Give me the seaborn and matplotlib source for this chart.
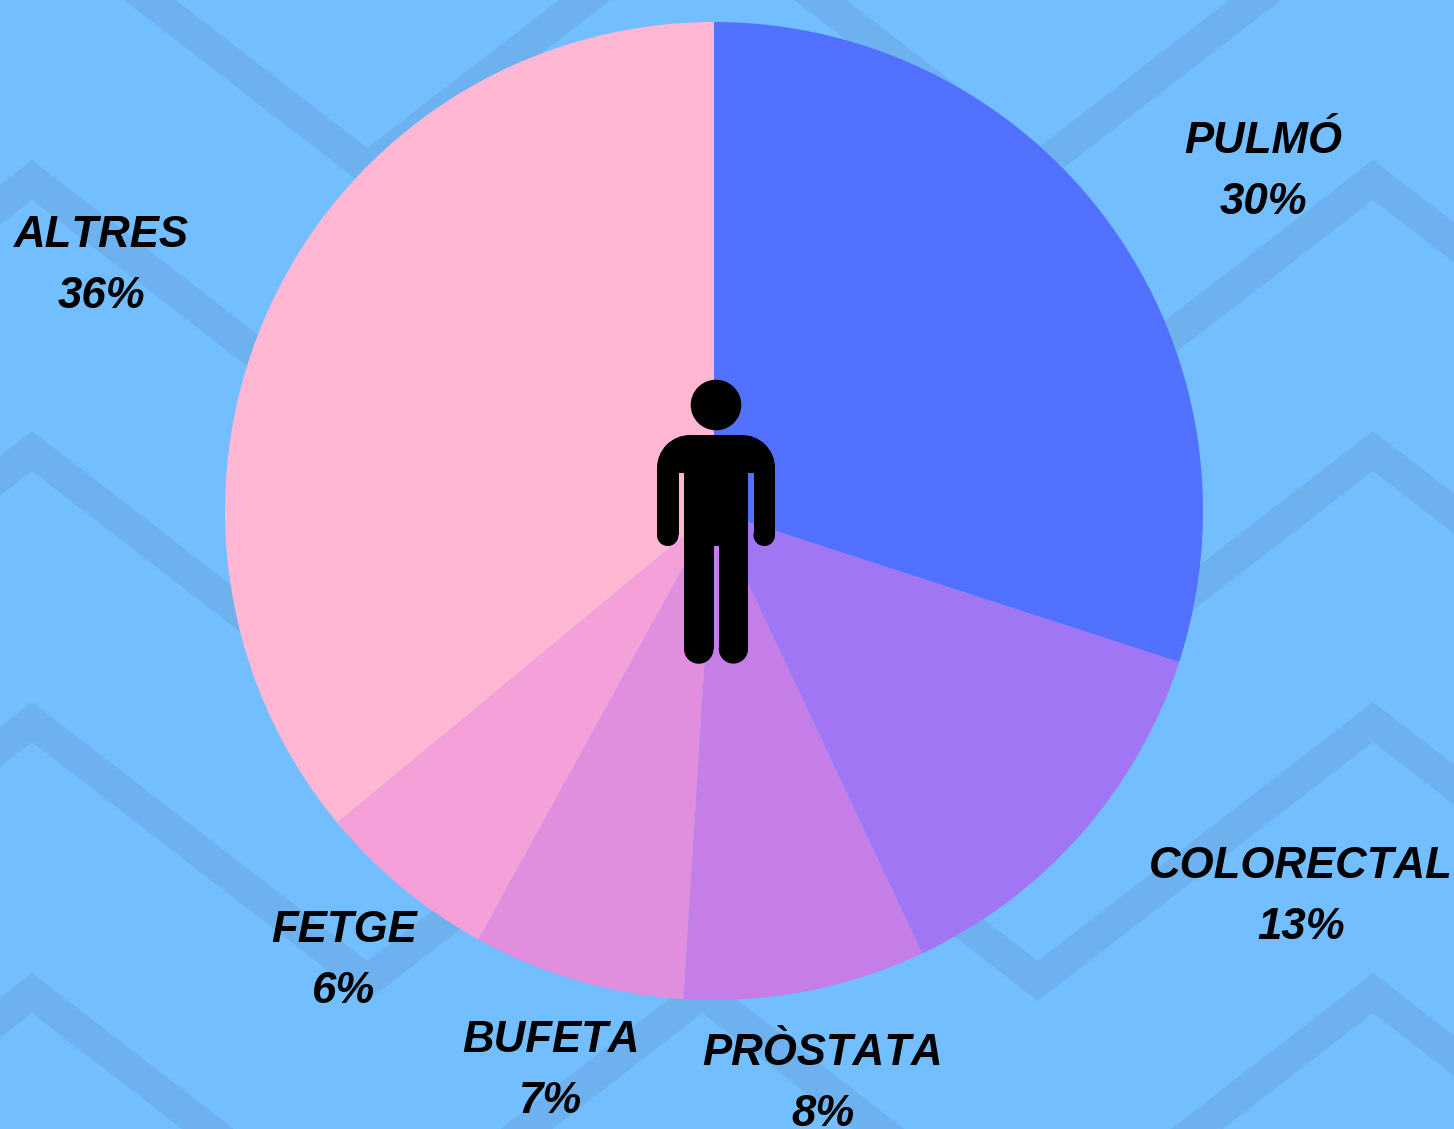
import numpy as np
import matplotlib
matplotlib.use('Agg')
import matplotlib.pyplot as plt
from matplotlib.patches import Circle, Rectangle, Wedge
import seaborn as sns

W, H = 1454, 1129

# --- Data ---
labels = ['PULMÓ', 'COLORECTAL', 'PRÒSTATA', 'BUFETA', 'FETGE', 'ALTRES']
values = [30, 13, 8, 7, 6, 36]
slice_colors = ['#5271FF', '#A076F5', '#C57DE8', '#E08EDD', '#F5A0D8', '#FFB7D3']
label_x = [1263, 1301, 823, 551, 344, 101]
label_y = [153, 878, 1065, 1052, 942, 247]

BG = '#72BEFF'
STRIPE = '#6DB2EE'

sns.set_theme(style="white")
plt.rcParams['font.family'] = ['Liberation Sans', 'DejaVu Sans']
plt.rcParams['text.kerning_factor'] = 20  # the reference text is set without kerning

fig = plt.figure(figsize=(W / 100, H / 100), dpi=100, facecolor=BG)
ax = fig.add_axes([0, 0, 1, 1])
ax.set_facecolor(BG)


def fy(py):
    # picture rows run downwards, the axes run upwards
    return H - py


# --- Background chevrons ---
peak_x = 32 + 670.5 * np.arange(-1, 4)
xs = np.sort(np.concatenate([peak_x, peak_x + 335.25]))
for row in range(-1, 5):
    top = 160 + 271 * row
    ys = np.array([top if i % 2 == 0 else top + 259 for i in range(len(xs))], dtype=float)
    ax.fill_between(xs, fy(ys), fy(ys + 40), color=STRIPE, linewidth=0, zorder=1)

# --- Pie ---
palette = sns.color_palette(slice_colors)
wedges, _ = ax.pie(values, colors=palette, startangle=90, counterclock=False,
                   center=(714, fy(511)), radius=489,
                   wedgeprops={'linewidth': 0})
for w in wedges:
    w.set_zorder(2)


# --- Person icon ---
def box(x0, y0, x1, y1):
    ax.add_patch(Rectangle((x0, fy(y1)), x1 - x0, y1 - y0, fc='black', ec='none', zorder=3))


def dot(x, y, r):
    ax.add_patch(Circle((x, fy(y)), r, fc='black', ec='none', zorder=3))


dot(716, 405, 25.3)
ax.add_patch(Wedge((690, fy(468)), 33, 90, 180, fc='black', ec='none', zorder=3))
ax.add_patch(Wedge((742, fy(468)), 33, 0, 90, fc='black', ec='none', zorder=3))
box(690, 435, 742, 468)
box(657, 468, 775, 473)
# arms
box(657, 473, 678.5, 535.3)
dot(667.75, 535.3, 10.75)
box(753.5, 473, 775, 535.3)
dot(764.25, 535.3, 10.75)
# torso and legs
box(684, 473, 748, 546)
box(684, 546, 713.5, 649)
dot(698.75, 649, 14.75)
box(718.8, 546, 748, 649)
dot(733.4, 649, 14.6)

# --- Labels ---
for name, val, x, y in zip(labels, values, label_x, label_y):
    ax.text(x, fy(y), name, ha='center', va='baseline', fontsize=31.5,
            fontweight='bold', fontstyle='italic', color='black', zorder=4)
    ax.text(x, fy(y + 61), f'{val}%', ha='center', va='baseline', fontsize=31.5,
            fontweight='bold', fontstyle='italic', color='black', zorder=4)

ax.set_xlim(0, W)
ax.set_ylim(0, H)
ax.set_aspect('auto')
ax.axis('off')
fig.savefig('out.png', dpi=100, facecolor=BG)
